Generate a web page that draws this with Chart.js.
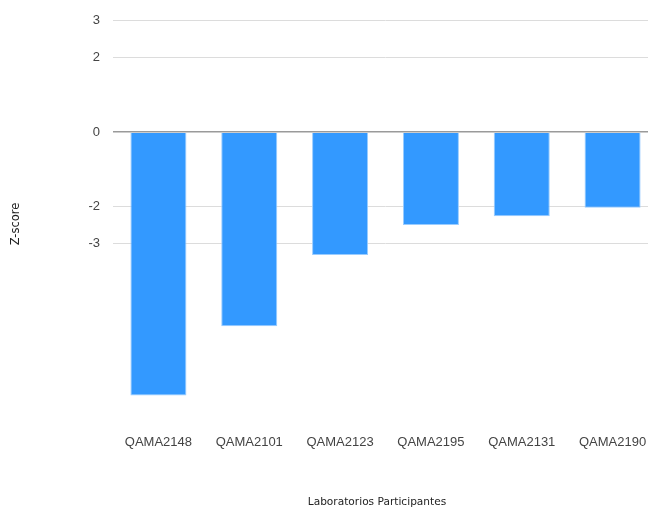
<!DOCTYPE html>
<html>
<head>
<meta charset="utf-8">
<script src="https://cdn.jsdelivr.net/npm/chart.js@4/dist/chart.umd.min.js"></script>
<style>
  html, body { margin: 0; padding: 0; background: #fff; overflow: hidden; }
  #wrap { position: relative; width: 658px; height: 508px; }
</style>
</head>
<body>
<div id="wrap"><canvas id="chart" width="658" height="508"></canvas></div>
<script>
// data
const labs = ['QAMA2148', 'QAMA2101', 'QAMA2123', 'QAMA2195', 'QAMA2131', 'QAMA2190'];
const zScores = [-7.10, -5.23, -3.31, -2.50, -2.27, -2.04];
const yTicks = [3, 2, 0, -2, -3];
const yMin = -8;
const yMax = 3;

const yTitle = 'Z-score';
const xTitle = 'Laboratorios Participantes';

// axis titles drawn by hand so they sit where the original put them
const axisTitles = {
  id: 'axisTitles',
  afterDraw(chart) {
    const ctx = chart.ctx;
    ctx.save();
    ctx.fillStyle = '#222';
    ctx.textAlign = 'center';
    ctx.textBaseline = 'middle';
    ctx.font = '10.6px "DejaVu Sans"';
    ctx.fillText(xTitle, 377, 502);
    ctx.font = '11.5px "DejaVu Sans"';
    ctx.translate(16, 224);
    ctx.rotate(-Math.PI / 2);
    ctx.fillText(yTitle, 0, 0);
    ctx.restore();
  }
};

new Chart(document.getElementById('chart'), {
  type: 'bar',
  data: {
    labels: labs,
    datasets: [{
      data: zScores,
      backgroundColor: '#3399ff',
      borderColor: '#99ccff',
      borderWidth: { left: 1, right: 1, bottom: 1, top: 0 },
      borderSkipped: false,
      barPercentage: 0.617,
      categoryPercentage: 1
    }]
  },
  options: {
    responsive: false,
    animation: false,
    layout: { padding: { top: 19, right: 0, bottom: 0, left: 0 } },
    plugins: {
      legend: { display: false },
      tooltip: { enabled: false }
    },
    scales: {
      x: {
        grid: { display: false, drawTicks: false },
        border: { display: false },
        ticks: {
          color: '#444',
          font: { family: '"Liberation Sans", Arial', size: 13 },
          padding: 6,
          maxRotation: 0,
          autoSkip: false
        },
        afterFit(scale) { scale.height = 79; }
      },
      y: {
        min: yMin,
        max: yMax,
        afterBuildTicks(scale) {
          scale.ticks = yTicks.map(v => ({ value: v }));
        },
        grid: {
          drawTicks: false,
          color: c => (c.tick && c.tick.value === 0) ? '#9a9a9a' : '#dcdcdc',
          lineWidth: c => (c.tick && c.tick.value === 0) ? 1.5 : 1
        },
        border: { display: false },
        ticks: {
          color: '#444',
          font: { family: '"Liberation Sans", Arial', size: 13 },
          padding: 13
        },
        afterFit(scale) { scale.width = 113; }
      }
    }
  },
  plugins: [axisTitles]
});
</script>
</body>
</html>
